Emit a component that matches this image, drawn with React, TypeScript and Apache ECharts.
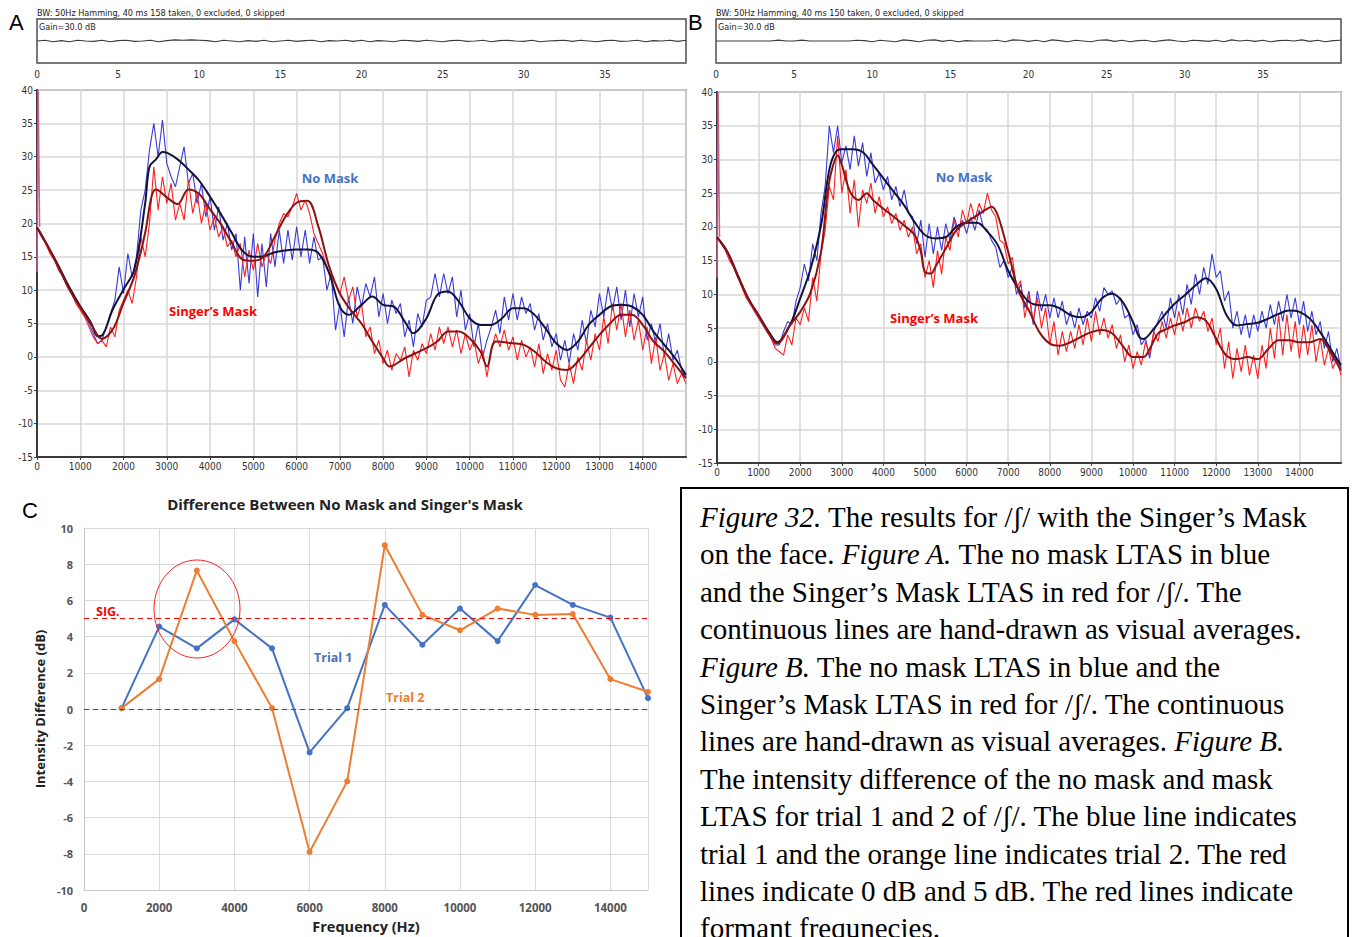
import { useEffect, useRef } from "react";
import * as echarts from "echarts";

// ---------- LTAS spectra: noisy traces sampled every BIN_HZ ----------
const BIN_HZ = 100;

// Panel A, No Mask (blue)
const A_NOMASK = [
  19.5, 18.5, 17.0, 16.0, 14.5, 13.5, 12.0, 11.0, 9.5, 8.5,
  7.5, 6.5, 5.0, 3.5, 2.0, 2.5, 4.5, 6.5, 8.5, 13.5,
  9.5, 15.5, 12.0, 15.0, 22.0, 25.0, 31.0, 35.0, 30.0, 35.5,
  29.0, 27.0, 25.5, 28.5, 31.5, 26.0, 27.5, 23.0, 26.0, 21.0,
  24.0, 19.0, 22.5, 17.5, 20.0, 16.0, 18.5, 10.0, 18.0, 11.0,
  18.5, 9.0, 17.0, 10.5, 18.5, 13.5, 19.0, 14.0, 19.0, 14.5,
  19.5, 15.0, 19.0, 14.0, 18.0, 14.5, 15.0, 10.0, 12.5, 4.0,
  8.0, 3.0, 9.0, 5.0, 10.5, 7.5, 11.0, 9.0, 12.0, 6.0,
  9.5, 5.0, 8.5, 6.5, 8.0, 3.0, 5.5, 1.5, 6.5, 4.5,
  8.5, 9.0, 12.5, 9.0, 12.5, 9.5, 12.0, 6.0, 10.0, 4.0,
  6.5, 1.5, 5.0, 0.0, 2.5, 4.5, 7.0, 3.5, 9.0, 5.5,
  9.5, 5.5, 9.0, 6.5, 8.0, 4.0, 6.5, 2.5, 5.0, 1.5,
  3.5, -0.5, 2.5, -1.0, 3.5, 1.0, 5.5, 2.0, 7.0, 4.5,
  9.5, 6.0, 10.5, 7.0, 10.5, 5.5, 10.0, 4.5, 9.5, 6.0,
  9.0, 2.5, 5.0, 2.0, 5.0, 0.0, 3.5, -0.5, 1.0, -2.0,
  -3.0,
];

// Panel A, Singer's Mask (red)
const A_MASK = [
  19.5, 18.0, 17.0, 15.5, 14.5, 13.0, 12.0, 10.5, 9.5, 8.0,
  7.0, 6.0, 4.5, 3.0, 2.0, 2.5, 1.5, 4.5, 3.0, 7.0,
  8.5, 10.0, 8.0, 12.0, 18.0, 15.0, 20.0, 28.5, 22.0, 27.0,
  23.0, 26.0, 20.5, 23.0, 20.5, 26.5, 21.5, 24.5, 20.0, 23.0,
  19.0, 21.0, 18.0, 19.5, 16.5, 17.5, 15.0, 17.0, 12.0, 16.0,
  13.0, 17.0, 13.5, 15.5, 14.0, 17.5, 20.0, 21.5, 21.0, 22.5,
  24.5, 22.0, 23.5, 21.5, 18.5, 17.0, 15.5, 13.5, 12.0, 11.0,
  9.5, 12.0, 8.5, 10.5, 6.0, 8.0, 3.0, 4.5, 0.5, 2.5,
  -1.0, 1.0, -2.0, 0.5, -0.5, 1.5, -3.0, 1.0, -0.5, 2.0,
  0.5, 3.5, 1.0, 4.5, 2.0, 4.5, 1.5, 4.0, 0.5, 3.5,
  1.0, 2.5, -1.0, 1.0, -3.0, 1.0, 3.5, 1.5, 4.0, 1.0,
  3.0, -0.5, 2.5, 0.0, 1.5, -1.5, 2.0, -2.5, 0.5, -2.0,
  1.0, -3.5, -4.5, -1.0, -4.0, 0.0, -2.0, 2.5, -0.5, 3.5,
  1.0, 6.0, 2.0, 8.0, 4.0, 8.0, 3.0, 7.0, 2.5, 5.5,
  1.0, 4.5, -1.0, 3.0, -2.0, 0.5, -3.5, -1.0, -4.0, -2.5,
  -4.0,
];

// Panel B, No Mask (blue)
const B_NOMASK = [
  18.5, 17.5, 17.0, 15.5, 14.0, 12.5, 11.5, 10.0, 9.0, 7.5,
  6.5, 5.5, 4.5, 3.5, 2.5, 2.5, 4.5, 6.0, 5.5, 9.0,
  11.0, 14.5, 12.0, 17.5, 15.0, 22.0, 26.0, 35.0, 31.0, 35.0,
  29.5, 32.0, 28.5, 33.5, 29.0, 32.5, 27.5, 31.0, 26.5, 28.0,
  25.5, 27.5, 24.0, 26.0, 23.0, 25.5, 22.0, 21.5, 17.5, 21.0,
  15.5, 20.5, 16.0, 20.0, 16.5, 20.5, 18.0, 21.5, 19.5, 21.0,
  19.0, 21.5, 19.5, 22.5, 20.0, 19.5, 18.0, 17.0, 14.0, 15.0,
  12.5, 14.0, 10.0, 11.5, 8.0, 10.5, 5.5, 10.5, 7.5, 10.0,
  6.5, 9.5, 6.5, 9.0, 5.5, 7.5, 5.0, 8.0, 5.5, 7.5,
  6.5, 9.5, 7.5, 11.0, 10.0, 10.5, 8.5, 9.5, 6.5, 7.0,
  4.0, 5.5, 2.5, 3.5, 0.5, 4.5, 6.0, 7.5, 5.0, 9.5,
  6.5, 10.0, 7.0, 11.5, 8.5, 13.0, 10.0, 14.0, 11.5, 16.0,
  12.5, 13.5, 9.0, 10.5, 5.0, 7.5, 4.0, 7.0, 3.5, 7.0,
  4.5, 7.5, 5.0, 8.5, 5.5, 9.0, 6.0, 10.0, 6.5, 9.5,
  5.5, 9.0, 4.5, 7.5, 4.0, 6.0, 2.0, 4.5, 0.0, 2.0,
  -1.0,
];

// Panel B, Singer's Mask (red)
const B_MASK = [
  18.5, 17.5, 16.5, 15.0, 14.0, 12.5, 11.0, 9.5, 8.5, 7.5,
  6.5, 5.5, 4.5, 3.5, 2.0, 1.5, 1.0, 4.0, 2.5, 6.5,
  5.5, 8.0, 6.0, 12.5, 9.0, 16.0, 19.5, 26.0, 24.0, 33.5,
  25.0, 28.5, 22.0, 27.0, 20.0, 25.5, 23.5, 26.5, 22.0, 24.5,
  21.5, 23.0, 20.5, 22.0, 19.5, 21.0, 18.5, 20.0, 16.0, 17.5,
  12.5, 15.0, 11.0, 16.5, 13.0, 18.5, 16.5, 21.0, 18.5, 22.5,
  20.5, 23.5, 21.0, 23.5, 22.0, 25.0, 22.5, 21.5, 18.0, 17.5,
  14.5, 15.5, 11.0, 12.0, 6.5, 10.0, 6.0, 9.5, 5.0, 8.0,
  2.5, 6.0, 1.0, 4.5, 1.5, 4.5, 2.0, 5.5, 2.5, 6.5,
  3.0, 7.5, 4.0, 6.5, 3.5, 5.5, 2.0, 4.0, 0.0, 2.5,
  -1.0, 1.5, -0.5, 3.0, 1.0, 4.5, 3.0, 6.0, 3.5, 6.5,
  4.0, 7.5, 4.5, 8.0, 5.0, 8.0, 6.0, 7.5, 4.5, 6.5,
  2.5, 5.0, -1.0, 3.0, -2.5, 2.0, -1.5, 2.5, -2.0, 1.0,
  -2.5, 2.5, -1.0, 5.0, 0.5, 7.0, 1.0, 7.0, 1.5, 6.0,
  0.5, 5.5, 1.0, 5.5, 0.0, 3.5, -0.5, 2.0, -1.0, 0.5,
  -2.0,
];

// ---------- hand-drawn averages ----------
const A_NOMASK_AVG_HZ = [
  0, 250, 500, 750, 1000, 1250, 1400, 1500, 1750, 2000, 2250, 2500, 2600, 2750, 2900,
  3000, 3250, 3500, 3750, 4000, 4250, 4500, 4750, 5000, 5250, 5500, 6000, 6250, 6500, 6750,
  7000, 7200, 7500, 7750, 8000, 8250, 8500, 8700, 9000, 9250, 9500, 9750, 10000, 10250, 10500,
  10750, 11000, 11250, 11500, 11750, 12000, 12250, 12500, 12750, 13000, 13250, 13500, 13750, 14000, 14250,
  14500, 14750, 15000,
];
const A_NOMASK_AVG_DB = [
  19.4, 16.6, 13.6, 10.4, 7.6, 5.1, 3.1, 3.2, 7.1, 10.1, 13.1, 23.0, 28.5, 29.6, 30.7,
  30.6, 29.6, 28.1, 26.4, 24.0, 21.4, 18.6, 15.9, 15.0, 15.1, 15.7, 16.1, 16.1, 15.6, 12.6,
  7.5, 6.3, 7.8, 9.05, 7.8, 7.55, 5.3, 3.55, 5.8, 9.3, 9.8, 8.3, 5.8, 4.8, 4.8,
  5.8, 7.3, 7.3, 6.3, 4.3, 2.05, 1.05, 2.3, 4.8, 6.3, 7.55, 7.8, 7.55, 6.3, 3.8,
  1.8, -0.2, -2.7,
];
const A_MASK_AVG_HZ = [
  0, 250, 500, 750, 1000, 1250, 1500, 1750, 2000, 2250, 2500, 2650, 2750, 3000, 3250,
  3500, 3750, 4000, 4250, 4500, 4750, 5000, 5250, 5500, 5750, 6000, 6250, 6500, 6750, 7000,
  7250, 7500, 7750, 8000, 8150, 8500, 9000, 9250, 9500, 9750, 10000, 10250, 10400, 10600, 11000,
  11250, 11500, 11750, 12000, 12250, 12500, 12750, 13000, 13250, 13500, 13750, 14000, 14250, 14500, 14750,
  15000,
];
const A_MASK_AVG_DB = [
  19.4, 16.6, 13.4, 10.1, 7.4, 4.9, 2.7, 4.1, 8.1, 12.1, 18.6, 24.1, 25.1, 23.9, 22.9,
  25.1, 24.4, 22.1, 19.9, 17.1, 14.6, 14.4, 15.1, 18.1, 21.1, 23.1, 23.4, 19.6, 13.6, 9.5,
  7.0, 5.0, 2.3, -0.2, -1.45, -0.2, 1.3, 2.3, 3.8, 3.8, 2.8, 0.8, -1.45, 2.3, 2.05,
  1.8, 0.8, -0.7, -1.7, -1.95, -0.7, 1.3, 3.3, 5.05, 6.3, 6.3, 4.8, 2.3, 0.8, -1.2,
  -3.2,
];
const B_NOMASK_AVG_HZ = [
  0, 250, 500, 750, 1000, 1250, 1450, 1750, 2000, 2250, 2500, 2650, 2750, 2900, 3000,
  3250, 3500, 3750, 4000, 4250, 4500, 4750, 5000, 5250, 5500, 5750, 6000, 6250, 6500, 6750,
  7000, 7250, 7500, 7750, 8000, 8250, 8500, 8750, 9000, 9250, 9500, 9750, 10000, 10150, 10250,
  10500, 10750, 11000, 11250, 11500, 11750, 12000, 12250, 12500, 12750, 13000, 13250, 13500, 13750, 14000,
  14250, 14500, 14750, 15000,
];
const B_NOMASK_AVG_DB = [
  18.5, 16.3, 12.8, 9.4, 6.9, 4.4, 2.9, 5.4, 9.4, 13.8, 20.2, 26.7, 29.7, 31.4, 31.5,
  31.5, 31.1, 29.2, 27.2, 25.2, 23.2, 20.7, 18.8, 18.3, 18.5, 20.0, 20.6, 20.6, 19.3, 17.3,
  13.5, 10.8, 8.9, 8.4, 8.4, 7.9, 6.9, 6.6, 7.4, 9.4, 10.1, 8.9, 5.9, 3.7, 3.4,
  4.9, 6.9, 8.6, 9.9, 11.3, 12.4, 10.8, 6.9, 5.4, 5.6, 5.8, 6.4, 7.1, 7.6, 7.4,
  6.4, 4.4, 1.9, -0.5,
];
const B_MASK_AVG_HZ = [
  0, 250, 500, 750, 1000, 1250, 1450, 1750, 2000, 2250, 2500, 2650, 2750, 2900, 3000,
  3200, 3400, 3600, 3750, 4000, 4250, 4500, 4750, 4900, 5000, 5150, 5250, 5500, 5750, 6000,
  6250, 6500, 6600, 6750, 7000, 7250, 7500, 7750, 8000, 8250, 8500, 8750, 9000, 9250, 9500,
  9750, 10000, 10250, 10400, 10600, 10750, 11000, 11250, 11500, 11750, 12000, 12250, 12500, 12750, 13000,
  13250, 13500, 13750, 14000, 14250, 14500, 14750, 15000,
];
const B_MASK_AVG_DB = [
  18.5, 16.3, 12.8, 9.4, 6.9, 4.2, 2.7, 5.4, 7.4, 10.3, 16.3, 24.7, 28.2, 30.6, 29.2,
  25.2, 24.0, 25.0, 24.0, 22.7, 21.5, 20.2, 18.8, 16.3, 13.3, 13.1, 14.1, 16.8, 19.5, 20.7,
  21.7, 22.7, 23.0, 21.7, 16.3, 10.5, 7.6, 4.4, 2.7, 2.4, 2.9, 3.7, 4.4, 4.7, 4.2,
  2.4, 0.7, 0.7, 1.9, 4.2, 4.7, 5.4, 5.9, 6.6, 6.1, 3.4, 0.9, 0.4, 0.7, 0.4,
  1.9, 3.2, 3.2, 2.9, 2.9, 3.4, 1.4, -1.3,
];

// Low-frequency spike at the start of each spectrum
const SPIKE_HZ = [0, 25, 60];
const A_SPIKE_DB = [12.7, 40, 19.5];
const B_SPIKE_DB = [12.5, 40, 18.5];

// ---------- waveform strips (seconds) ----------
const STRIP_STEP_S = 0.5;
const STRIP_A = [
  0, 0.1, -0.1, 0.05, -0.1, 0.1, 0, -0.05, 0.1, -0.1,
  0.05, 0.1, -0.05, 0, 0.1, -0.1, 0.05, 0.15, 0.1, 0.15,
  0.1, 0.05, -0.1, 0.1, 0, -0.1, 0.05, -0.05, 0.1, -0.1,
  0, 0.1, -0.05, 0.05, 0.1, -0.1, 0.05, 0, 0.1, -0.05,
  0.1, -0.1, 0.05, 0, -0.1, 0.1, 0.05, -0.05, 0.1, 0,
  -0.1, 0.05, 0.1, -0.05, 0, 0.1, -0.1, 0.05, 0.1, 0,
  -0.05, 0.1, -0.1, 0, 0.05, 0.1, -0.05, 0.1, 0, -0.1,
  0.05, 0.1, -0.05, 0, 0.1, -0.1, 0.05, 0, 0.1, -0.05,
  0.1,
];
const STRIP_B = [
  0, 0, 0, 0, 0, 0, 0, 0, 0.12, 0,
  0, 0.12, 0, 0, 0, 0, 0, 0, 0.1, 0.05,
  -0.1, 0.1, 0, -0.1, 0.15, 0.05, -0.1, 0.1, 0.15, -0.05,
  0.1, -0.1, 0.05, 0, 0, 0, 0.1, -0.1, 0.15, 0.1,
  -0.05, 0.1, -0.1, 0.15, 0.05, -0.1, 0.1, 0, -0.1, 0.1,
  0.15, -0.05, 0.1, -0.1, 0.05, 0.1, -0.1, 0.05, 0.15, 0,
  -0.1, 0.1, 0.05, -0.05, 0.1, -0.1, 0.15, 0, 0.1, -0.05,
  0.1, -0.1, 0.05, 0.1, 0, 0.15, -0.05, 0.1, -0.1, 0.05,
  0.1,
];

// ---------- panel C: difference between No Mask and Singer's Mask ----------
const C_FREQ = [1000, 2000, 3000, 4000, 5000, 6000, 7000, 8000, 9000, 10000, 11000, 12000, 13000, 14000, 15000];
const TRIAL_1 = [0.05, 4.55, 3.35, 4.95, 3.35, -2.4, 0.05, 5.75, 3.55, 5.55, 3.75, 6.85, 5.75, 5.05, 0.6];
const TRIAL_2 = [0.05, 1.65, 7.65, 3.75, 0.05, -7.9, -4.0, 9.05, 5.2, 4.35, 5.55, 5.2, 5.25, 1.65, 0.95];
const REF_LINES_DB = [0, 5];

const CAPTION_LINES = [
  "{i|Figure 32.} The results for /ʃ/ with the Singer’s Mask",
  "on the face. {i|Figure A.} The no mask LTAS in blue",
  "and the Singer’s Mask LTAS in red for /ʃ/. The",
  "continuous lines are hand-drawn as visual averages.",
  "{i|Figure B.} The no mask LTAS in blue and the",
  "Singer’s Mask LTAS in red for /ʃ/. The continuous",
  "lines are hand-drawn as visual averages. {i|Figure B.}",
  "The intensity difference of the no mask and mask",
  "LTAS for trial 1 and 2 of /ʃ/. The blue line indicates",
  "trial 1 and the orange line indicates trial 2. The red",
  "lines indicate 0 dB and 5 dB. The red lines indicate",
  "formant frequnecies.",
];

// ---------- styling ----------
const NARROW = '"Liberation Sans Narrow", "DejaVu Sans Condensed", "Liberation Sans", sans-serif';
const BOLD_SANS = '"Open Sans", "Noto Sans", sans-serif';
const SERIF = '"Liberation Serif", "DejaVu Serif", serif';
const CAPTION_SIZE = 29;
const NOISY_BLUE = "#3a3ad8";
const NOISY_RED = "#ff1f1f";
const AVG_NAVY = "#12123c";
const AVG_MAROON = "#8a1212";

const plain = (v: number) => `${v}`;
const binned = (values: number[], step: number) => values.map((v, i) => [i * step, v]);
const paired = (xs: number[], ys: number[]) => xs.map((x, i) => [x, ys[i]]);

function spectrumAxes(grid: number) {
  const x = {
    type: "value",
    gridIndex: grid,
    min: 0,
    max: 15000,
    interval: 1000,
    axisLine: { show: true, onZero: false, lineStyle: { color: "#3a3a3a", width: 2 } },
    axisTick: { show: true, length: 3, lineStyle: { color: "#3a3a3a" } },
    axisLabel: { fontFamily: NARROW, fontSize: 10, color: "#333", margin: 4, showMaxLabel: false, formatter: plain },
    splitLine: { show: true, lineStyle: { color: "#d7d7d7", width: 1.5 } },
  };
  const y = {
    type: "value",
    gridIndex: grid,
    min: -15,
    max: 40,
    interval: 5,
    axisLine: { show: true, onZero: false, lineStyle: { color: "#3a3a3a", width: 2 } },
    axisTick: { show: true, length: 3, lineStyle: { color: "#3a3a3a" } },
    axisLabel: { fontFamily: NARROW, fontSize: 10, color: "#333", margin: 4, formatter: plain },
    splitLine: { show: true, lineStyle: { color: "#d7d7d7", width: 1.5 } },
  };
  return { x, y };
}

function stripAxes(grid: number) {
  const x = {
    type: "value",
    gridIndex: grid,
    min: 0,
    max: 40,
    interval: 5,
    axisLine: { show: false },
    axisTick: { show: false },
    axisLabel: { fontFamily: NARROW, fontSize: 10, color: "#333", margin: 6, showMaxLabel: false, formatter: plain },
    splitLine: { show: false },
  };
  const y = { type: "value", gridIndex: grid, min: -3, max: 3, show: false };
  return { x, y };
}

function lineSeries(axis: number, data: number[][], color: string, width: number, smooth: number | boolean = false) {
  return {
    type: "line",
    xAxisIndex: axis,
    yAxisIndex: axis,
    data,
    showSymbol: false,
    symbol: "none",
    smooth,
    silent: true,
    lineStyle: { color, width },
  };
}

function spectrumSeries(axis: number, blue: number[], red: number[], navyHz: number[], navyDb: number[], maroonHz: number[], maroonDb: number[], spike: number[]) {
  return [
    lineSeries(axis, binned(blue, BIN_HZ), NOISY_BLUE, 1.1),
    lineSeries(axis, binned(red, BIN_HZ), NOISY_RED, 1.1),
    lineSeries(axis, paired(SPIKE_HZ, spike), "#d0588f", 1.5),
    lineSeries(axis, paired(navyHz, navyDb), AVG_NAVY, 2, 0.35),
    lineSeries(axis, paired(maroonHz, maroonDb), AVG_MAROON, 2, 0.35),
  ];
}

function label(text: string, x: number, y: number, fill: string, font: string, size: number, weight: string | number = "normal", align = "left") {
  return {
    type: "text",
    x,
    y,
    silent: true,
    z: 100,
    style: { text, fill, fontFamily: font, fontSize: size, fontWeight: weight, align, verticalAlign: "middle" },
  };
}

export default function App() {
  const ref = useRef<HTMLDivElement>(null);

  useEffect(() => {
    if (!ref.current) return;
    const chart = echarts.init(ref.current, undefined, { renderer: "svg" });

    const sA = stripAxes(0);
    const mA = spectrumAxes(1);
    const sB = stripAxes(2);
    const mB = spectrumAxes(3);

    const cX = {
      type: "value",
      gridIndex: 4,
      min: 0,
      max: 15000,
      interval: 2000,
      name: "Frequency (Hz)",
      nameLocation: "middle",
      nameGap: 29,
      nameTextStyle: { fontFamily: BOLD_SANS, fontWeight: "bold", fontSize: 14.5, color: "#222" },
      axisLine: { show: true, onZero: false, lineStyle: { color: "#c8c8c8", width: 1 } },
      axisTick: { show: false },
      axisLabel: { fontFamily: BOLD_SANS, fontWeight: "bold", fontSize: 11.5, color: "#555", margin: 11, showMaxLabel: false, formatter: plain },
      splitLine: { show: true, lineStyle: { color: "#dadada", width: 1 } },
    };
    const cY = {
      type: "value",
      gridIndex: 4,
      min: -10,
      max: 10,
      interval: 2,
      name: "Intensity Difference (dB)",
      nameLocation: "middle",
      nameGap: 38,
      nameTextStyle: { fontFamily: BOLD_SANS, fontWeight: "bold", fontSize: 13, color: "#222" },
      axisLine: { show: true, onZero: false, lineStyle: { color: "#c8c8c8", width: 1 } },
      axisTick: { show: false },
      axisLabel: { fontFamily: BOLD_SANS, fontWeight: "bold", fontSize: 11, color: "#555", margin: 11, formatter: plain },
      splitLine: { show: true, lineStyle: { color: "#dadada", width: 1 } },
    };

    const caption = CAPTION_LINES.map((line, i) => ({
      type: "text",
      x: 700,
      y: 517 + i * 37.4,
      silent: true,
      z: 101,
      style: {
        text: line,
        fill: "#000",
        fontFamily: SERIF,
        fontSize: CAPTION_SIZE,
        verticalAlign: "middle",
        rich: { i: { fontStyle: "italic", fontFamily: SERIF, fontSize: CAPTION_SIZE, fill: "#000" } },
      },
    }));

    chart.setOption({
      animation: false,
      backgroundColor: "#ffffff",
      grid: [
        { left: 37, top: 19, width: 649, height: 44, show: true, borderColor: "#4d4d4d", borderWidth: 1.5 },
        { left: 37, top: 90, width: 649, height: 367, show: true, borderColor: "#9a9a9a", borderWidth: 2 },
        { left: 716, top: 19, width: 625, height: 44, show: true, borderColor: "#4d4d4d", borderWidth: 1.5 },
        { left: 717, top: 92, width: 624, height: 371, show: true, borderColor: "#9a9a9a", borderWidth: 2 },
        { left: 84, top: 528, width: 564, height: 362 },
      ],
      xAxis: [sA.x, mA.x, sB.x, mB.x, cX],
      yAxis: [sA.y, mA.y, sB.y, mB.y, cY],
      series: [
        lineSeries(0, binned(STRIP_A, STRIP_STEP_S), "#3c3c3c", 1.2),
        ...spectrumSeries(1, A_NOMASK, A_MASK, A_NOMASK_AVG_HZ, A_NOMASK_AVG_DB, A_MASK_AVG_HZ, A_MASK_AVG_DB, A_SPIKE_DB),
        lineSeries(2, binned(STRIP_B, STRIP_STEP_S), "#3c3c3c", 1.2),
        ...spectrumSeries(3, B_NOMASK, B_MASK, B_NOMASK_AVG_HZ, B_NOMASK_AVG_DB, B_MASK_AVG_HZ, B_MASK_AVG_DB, B_SPIKE_DB),
        {
          type: "line",
          name: "Trial 1",
          xAxisIndex: 4,
          yAxisIndex: 4,
          data: paired(C_FREQ, TRIAL_1),
          symbol: "circle",
          symbolSize: 6,
          itemStyle: { color: "#4472c4" },
          lineStyle: { color: "#4472c4", width: 2 },
          markLine: {
            silent: true,
            symbol: ["none", "none"],
            label: { show: false },
            lineStyle: { color: "#ff0000", type: [5, 4], width: 1.2 },
            data: REF_LINES_DB.map((v) => ({ yAxis: v })),
          },
        },
        {
          type: "line",
          name: "Trial 2",
          xAxisIndex: 4,
          yAxisIndex: 4,
          data: paired(C_FREQ, TRIAL_2),
          symbol: "circle",
          symbolSize: 6,
          itemStyle: { color: "#ed7d31" },
          lineStyle: { color: "#ed7d31", width: 2 },
        },
      ],
      graphic: [
        label("A", 9, 22, "#000", '"Liberation Sans", sans-serif', 22),
        label("B", 688, 22, "#000", '"Liberation Sans", sans-serif', 22),
        label("C", 22, 510, "#000", '"Liberation Sans", sans-serif', 22),
        label("BW: 50Hz Hamming, 40 ms 158 taken, 0 excluded, 0 skipped", 37, 13, "#222", NARROW, 9),
        label("Gain=30.0 dB", 39, 27, "#222", NARROW, 9),
        label("BW: 50Hz Hamming, 40 ms 150 taken, 0 excluded, 0 skipped", 716, 13, "#222", NARROW, 9),
        label("Gain=30.0 dB", 718, 27, "#222", NARROW, 9),
        label("No Mask", 330, 178, "#4472c4", BOLD_SANS, 13, "bold", "center"),
        label("Singer’s Mask", 213, 311, "#ff0000", BOLD_SANS, 13, "bold", "center"),
        label("No Mask", 964, 177, "#4472c4", BOLD_SANS, 13, "bold", "center"),
        label("Singer’s Mask", 934, 318, "#ff0000", BOLD_SANS, 13, "bold", "center"),
        label("Difference Between No Mask and Singer's Mask", 345, 504, "#222", BOLD_SANS, 15, "bold", "center"),
        label("SIG.", 96, 611, "#ff0000", BOLD_SANS, 12.5, "bold"),
        label("Trial 1", 314, 657, "#4472c4", BOLD_SANS, 12.5, "bold"),
        label("Trial 2", 386, 697, "#ed7d31", BOLD_SANS, 12.5, "bold"),
        {
          type: "ellipse",
          silent: true,
          z: 100,
          shape: { cx: 197, cy: 609, rx: 43, ry: 49 },
          style: { fill: "none", stroke: "#ff2020", lineWidth: 1 },
        },
        {
          type: "rect",
          silent: true,
          z: 99,
          shape: { x: 681, y: 488, width: 667, height: 470 },
          style: { fill: "#ffffff", stroke: "#000000", lineWidth: 2 },
        },
        ...caption,
      ],
    });

    return () => chart.dispose();
  }, []);

  return <div ref={ref} style={{ position: "fixed", left: 0, top: 0, width: 1354, height: 937 }} />;
}
